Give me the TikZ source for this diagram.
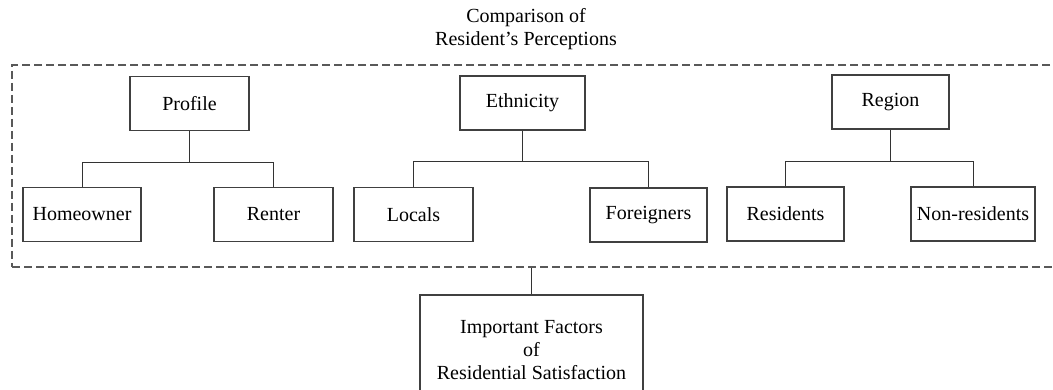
\documentclass[tikz,border=0pt]{standalone}
\usepackage{fontspec}
\setmainfont{Liberation Serif}

\begin{document}
\begin{tikzpicture}[x=0.5pt,y=-0.5pt,
  box/.style={draw=black!75,line width=0.65pt,minimum height=27pt,inner sep=0pt,font=\fontsize{10}{11.5}\selectfont,align=center},
  frame/.style={draw=black!65,line width=0.6pt,dash pattern=on 4pt off 2pt,minimum width=524pt,minimum height=101pt,inner sep=0pt},
  link/.style={draw=black!80,line width=0.5pt}]
\useasboundingbox (0,0) rectangle (1053,390);

\node[frame] (grp) at (536,166) {};
\node[font=\fontsize{10}{11.5}\selectfont,align=center] (ttl) at (526,29) {Comparison of\\Resident's Perceptions};

\node[box,minimum width=59.5pt] (prof) at (189.5,103.5) {Profile};
\node[box,minimum width=62.5pt] (eth) at (522.5,103) {Ethnicity};
\node[box,minimum width=58.5pt] (reg) at (890.5,102) {Region};

\node[box,minimum width=59pt] (home) at (82,214.5) {Homeowner};
\node[box,minimum width=59.5pt] (rent) at (273.5,214.5) {Renter};
\node[box,minimum width=59.5pt] (loc) at (413.5,214.5) {Locals};
\node[box,minimum width=58.5pt] (forg) at (648.5,215) {Foreigners};
\node[box,minimum width=58.5pt] (res) at (785.5,214) {Residents};
\node[box,minimum width=62pt] (nres) at (973,214) {Non-residents};

\node[box,minimum width=111.5pt,minimum height=55pt] (imp) at (531.5,350) {Important Factors\\of\\Residential Satisfaction};

\draw[link] (prof.south) -- ++(0,31) coordinate (pj);
\draw[link] (home.north) |- (pj) -| (rent.north);
\draw[link] (eth.south) -- ++(0,31) coordinate (ej);
\draw[link] (loc.north) |- (ej) -| (forg.north);
\draw[link] (reg.south) -- ++(0,32) coordinate (rj);
\draw[link] (res.north) |- (rj) -| (nres.north);
\draw[link] (imp.north) -- (imp.north |- grp.south);
\end{tikzpicture}
\end{document}
